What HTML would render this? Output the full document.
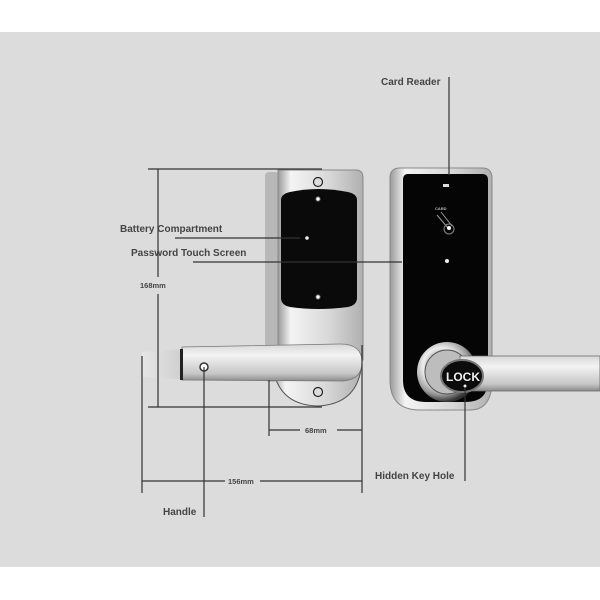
<!DOCTYPE html>
<html><head><meta charset="utf-8"><style>
html,body{margin:0;padding:0;background:#fff;}
svg{display:block}
text{font-family:"Liberation Sans",sans-serif;font-weight:bold;fill:#444;}
</style></head><body>
<svg width="600" height="600" viewBox="0 0 600 600" xmlns="http://www.w3.org/2000/svg">
<defs>
<linearGradient id="silv" x1="0" y1="0" x2="1" y2="0">
<stop offset="0" stop-color="#9a9a9a"/><stop offset="0.15" stop-color="#f4f4f4"/><stop offset="0.6" stop-color="#d8d8d8"/><stop offset="1" stop-color="#b0b0b0"/></linearGradient>
<linearGradient id="hand" x1="0" y1="0" x2="0" y2="1">
<stop offset="0" stop-color="#d8d8d8"/><stop offset="0.3" stop-color="#f3f3f3"/><stop offset="0.8" stop-color="#c6c6c6"/><stop offset="1" stop-color="#8c8c8c"/></linearGradient>
<linearGradient id="tip" x1="0" y1="0" x2="1" y2="0">
<stop offset="0" stop-color="#e6e6e6"/><stop offset="1" stop-color="#cfcfcf"/></linearGradient>
<radialGradient id="knob" cx="0.4" cy="0.4" r="0.6">
<stop offset="0" stop-color="#555"/><stop offset="0.5" stop-color="#eee"/><stop offset="0.8" stop-color="#999"/><stop offset="1" stop-color="#333"/></radialGradient>
</defs>
<rect x="0" y="32" width="600" height="535" fill="#dcdcdc"/>

<!-- left lock -->
<rect x="265" y="172" width="14" height="210" rx="4" fill="#b8b8b8"/>
<path d="M278 170 H356 Q363 170 363 178 V360 L278 360 Z" fill="url(#silv)" stroke="#888" stroke-width="1"/>
<path d="M281 200 Q281 194 290 192 Q318 186 348 192 Q357 194 357 200 V298 Q357 305 348 307 Q318 311 290 307 Q281 305 281 298 Z" fill="#0a0a0a"/>
<circle cx="318" cy="182" r="4.5" fill="#ddd" stroke="#222" stroke-width="1.2"/>
<circle cx="318" cy="199" r="2.2" fill="#fff" stroke="#555"/>
<circle cx="307" cy="238" r="1.8" fill="#eee"/>
<circle cx="318" cy="297" r="2.2" fill="#fff" stroke="#555"/>
<path d="M272 360 Q275 405 318 406 Q360 404 362 360 Z" fill="url(#silv)" stroke="#555"/>
<circle cx="318" cy="392" r="4.5" fill="#ddd" stroke="#222" stroke-width="1.2"/>
<path d="M142 352 L182 349 L182 379 L142 377 Z" fill="url(#tip)"/>
<path d="M182 347 L340 344 Q362 344 362 362 Q362 381 340 381 L182 380 Z" fill="url(#hand)" stroke="#777" stroke-width="0.8"/>
<rect x="180" y="349" width="3" height="31" fill="#222"/>
<circle cx="204" cy="367" r="4" fill="#fff" stroke="#333" stroke-width="1.5"/>

<!-- right lock -->
<path d="M400 168 H482 Q492 168 492 178 V380 Q492 410 470 410 H420 Q390 410 390 380 V178 Q390 168 400 168 Z" fill="url(#silv)" stroke="#888"/>
<path d="M408 174 H482 Q488 174 488 180 V380 Q488 402 466 402 H426 Q403 402 403 380 V180 Q403 174 408 174 Z" fill="#050505"/>
<rect x="443" y="184" width="6" height="3" fill="#ddd"/>
<text x="435" y="210" style="font-size:4px;fill:#bbb">CARD</text>
<path d="M437 215 L448 228 M441 212 L452 226" stroke="#999" stroke-width="1"/>
<circle cx="449" cy="229" r="5" fill="none" stroke="#888"/>
<circle cx="449" cy="228" r="2" fill="#fff"/>
<circle cx="447" cy="261" r="2" fill="#eee"/>
<circle cx="447" cy="372" r="30" fill="url(#knob)"/>
<circle cx="447" cy="372" r="22" fill="#bdbdbd" stroke="#555"/>
<path d="M460 356 L600 356 L600 391 L460 391 Z" fill="url(#hand)" stroke="#666" stroke-width="0.8"/>
<ellipse cx="462" cy="376" rx="21" ry="16" fill="#0c0c0c" stroke="#777" stroke-width="2"/>
<text x="446" y="381" style="font-size:12px;fill:#eee">LOCK</text>
<circle cx="465" cy="386" r="1.5" fill="#eee"/>

<g stroke="#333" stroke-width="1.2" fill="none">
<line x1="148" y1="169" x2="322" y2="169"/>
<line x1="148" y1="407" x2="322" y2="407"/>
<line x1="158" y1="169" x2="158" y2="277"/>
<line x1="158" y1="294" x2="158" y2="407"/>
<line x1="142" y1="356" x2="142" y2="493"/>
<line x1="362" y1="345" x2="362" y2="493"/>
<line x1="269" y1="380" x2="269" y2="436"/>
<line x1="269" y1="430" x2="300" y2="430"/><line x1="337" y1="430" x2="362" y2="430"/>
<line x1="142" y1="481" x2="225" y2="481"/><line x1="260" y1="481" x2="362" y2="481"/>
<line x1="175" y1="238" x2="300" y2="238"/>
<line x1="193" y1="262" x2="402" y2="262"/>
<line x1="449" y1="77" x2="449" y2="175"/>
<line x1="465" y1="388" x2="465" y2="481"/>
<line x1="204" y1="367" x2="204" y2="517"/>
</g>
<text x="120" y="232" style="font-size:10px">Battery Compartment</text>
<text x="131" y="256" style="font-size:10px">Password Touch Screen</text>
<text x="381" y="85" style="font-size:10px">Card Reader</text>
<text x="375" y="479" style="font-size:10px">Hidden Key Hole</text>
<text x="163" y="515" style="font-size:10px">Handle</text>
<text x="140" y="288" style="font-size:7.5px">168mm</text>
<text x="305" y="433" style="font-size:7.5px">68mm</text>
<text x="228" y="484" style="font-size:7.5px">156mm</text>
</svg>
</body></html>
